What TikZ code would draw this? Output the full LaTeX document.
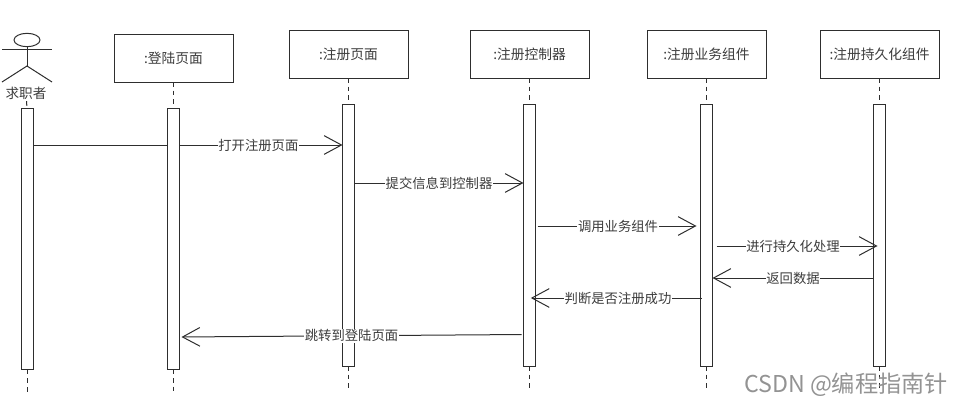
\documentclass[tikz,border=0pt]{standalone}
\usepackage{fontspec}
\setmainfont{Noto Sans CJK SC}
\usetikzlibrary{positioning}
\usetikzlibrary{arrows.meta}
\usetikzlibrary{shapes.geometric}
\definecolor{linegray}{HTML}{2E2E2E}
\definecolor{textgray}{HTML}{3C3C3C}

\begin{document}
\begin{tikzpicture} [x=0.75pt, y=-0.75pt, line width=0.75pt, draw=linegray,
        box/.style = {draw, fill=white, minimum width=89.25pt, minimum height=36pt, inner sep=0pt, outer sep=0pt, text=textgray, font=\fontsize{10.3}{12}\selectfont},
        act/.style = {draw, fill=white, minimum width=9pt, minimum height=196pt, inner sep=0pt, outer sep=0pt},
        msg/.style = {-{Straight Barb[length=13pt, width=14pt]}},
        lifeline/.style = {dash pattern=on 3.5pt off 3pt},
        lbl/.style = {fill=white, inner sep=0.6pt, text=textgray, font=\fontsize{10}{11}\selectfont}]
        \useasboundingbox (0,0) rectangle (959,407);

        %Nodes
        \node[draw, ellipse, minimum width=19.5pt, minimum height=10pt, inner sep=0pt, outer sep=0pt] (head) at (27,40) {};
        \node[text=textgray, font=\fontsize{10.2}{12}\selectfont, inner sep=1pt] (actorname) at (26,93) {求职者};
        \node[act] (act0) at (27,239) {};

        \node[box] (box1) at (173.5,58) {:登陆页面};
        \node[box, yshift=3pt] (box2) [right = 42pt of box1] {:注册页面};
        \node[box] (box3) [right = 46.5pt of box2] {:注册控制器};
        \node[box] (box4) [right = 43.5pt of box3] {:注册业务组件};
        \node[box] (box5) [right = 40.5pt of box4] {:注册持久化组件};

        \node[act] (act1) [below = 19.5pt of box1] {};
        \node[act] (act2) [below = 20pt of box2] {};
        \node[act] (act3) [below = 20pt of box3] {};
        \node[act] (act4) [below = 20pt of box4] {};
        \node[act] (act5) [below = 20pt of box5] {};

        \coordinate (shoulderl) at (2,49);
        \coordinate (shoulderr) at (52,49);
        \coordinate (hip) at (27,66);
        \coordinate (footl) at (2,82);
        \coordinate (footr) at (52,82);

        %Message levels
        \coordinate (y1) at (0,145);
        \coordinate (y2) at (0,183);
        \coordinate (y3) at (0,226);
        \coordinate (y4) at (0,246);
        \coordinate (y5) at (0,278);
        \coordinate (y6) at (0,298);
        \coordinate (y7a) at (0,334.5);
        \coordinate (y7b) at (0,337);

        %Actor
        \draw (head) -- (hip);
        \draw (shoulderl) -- (shoulderr);
        \draw (footl) -- (hip) -- (footr);

        %Lifelines
        \draw[lifeline] (actorname) -- (act0.north);
        \draw[lifeline] (act0.south) -- ++(0,25);
        \draw[lifeline] (box1) -- (act1.north);
        \draw[lifeline] (act1.south) -- ++(0,25);
        \draw[lifeline] (box2) -- (act2.north);
        \draw[lifeline] (act2.south) -- ++(0,25);
        \draw[lifeline] (box3) -- (act3.north);
        \draw[lifeline] (act3.south) -- ++(0,25);
        \draw[lifeline] (box4) -- (act4.north);
        \draw[lifeline] (act4.south) -- ++(0,25);
        \draw[lifeline] (box5) -- (act5.north);
        \draw[lifeline] (act5.south) -- ++(0,25);

        %Messages
        \draw (act0.east |- y1) -- (act1.west |- y1);
        \draw[msg] (act1.east |- y1) -- (act2.west |- y1) node[midway, lbl, xshift=-2pt] {打开注册页面};
        \draw[msg] (act2.east |- y2) -- (act3.west |- y2) node[midway, lbl] {提交信息到控制器};
        \draw[msg, shorten <=1.5pt, shorten >=3pt] (act3.east |- y3) -- (act4.west |- y3) node[midway, lbl] {调用业务组件};
        \draw[msg, shorten <=3pt, shorten >=-3pt] (act4.east |- y4) -- (act5.west |- y4) node[midway, lbl] {进行持久化处理};
        \draw[msg] (act5.west |- y5) -- (act4.east |- y5) node[midway, lbl] {返回数据};
        \draw[msg, shorten >=-3.5pt, shorten <=-1pt] (act4.west |- y6) -- (act3.east |- y6) node[midway, lbl] {判断是否注册成功};
        \draw[msg, shorten <=1.5pt, shorten >=1.5pt] (act3.west |- y7a) -- (act1.east |- y7b) node[midway, lbl] {跳转到登陆页面};

        %Watermark
        \node[text=gray!85, font=\fontsize{17.4}{20}\selectfont] (mark) at (846,385) {CSDN @编程指南针};

    \end{tikzpicture}
\end{document}
